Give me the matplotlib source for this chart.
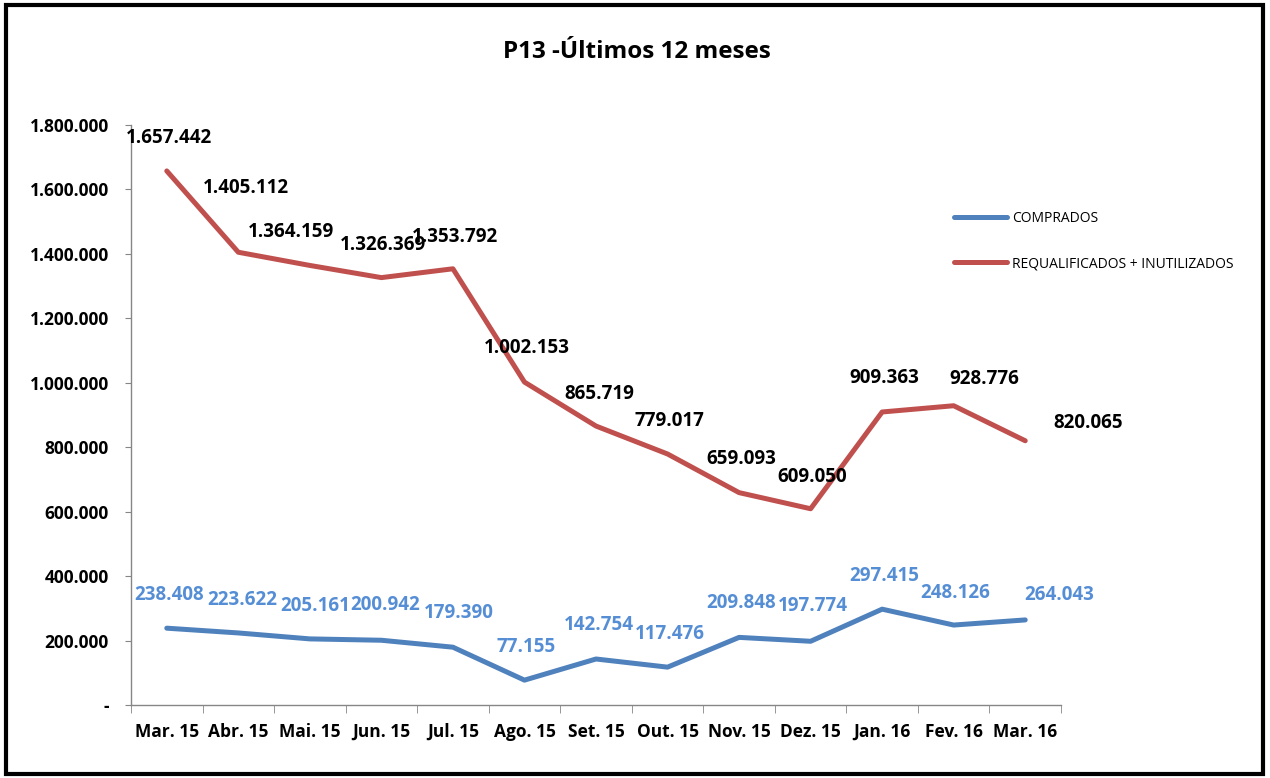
import matplotlib
matplotlib.use("Agg")
import matplotlib.pyplot as plt
from matplotlib.patches import Rectangle
from matplotlib.ticker import FuncFormatter, FixedLocator

plt.rcParams['font.family'] = ['Open Sans', 'DejaVu Sans']

meses = ['Mar. 15', 'Abr. 15', 'Mai. 15', 'Jun. 15', 'Jul. 15', 'Ago. 15', 'Set. 15',
         'Out. 15', 'Nov. 15', 'Dez. 15', 'Jan. 16', 'Fev. 16', 'Mar. 16']
comprados = [238408, 223622, 205161, 200942, 179390, 77155, 142754,
             117476, 209848, 197774, 297415, 248126, 264043]
requalificados = [1657442, 1405112, 1364159, 1326369, 1353792, 1002153, 865719,
                  779017, 659093, 609050, 909363, 928776, 820065]
yticks = [0, 200000, 400000, 600000, 800000, 1000000, 1200000, 1400000, 1600000, 1800000]

# deslocamento dos rótulos em pixels (dx, dy para cima), como no original
off_red = [(2, 33), (8, 64), (-19, 33), (2, 33), (2, 32), (2, 34), (3, 32),
           (2, 33), (2, 34), (2, 32), (2, 34), (31, 27), (63, 18)]
off_blue = [(2, 33), (4, 33), (5, 33), (4, 35), (6, 34), (2, 33), (3, 34),
            (2, 33), (2, 34), (2, 35), (2, 33), (2, 32), (34, 25)]

vermelho = '#C0504D'
azul = '#4F81BD'
azul_txt = '#558ED5'
DPI = 100


def fmt(v):
    if v == 0:
        return '-'
    return f'{v:,.0f}'.replace(',', '.')


fig = plt.figure(figsize=(12.7, 7.78), dpi=DPI)
ax = fig.add_axes([131 / 1270, 1 - 705 / 778, 930 / 1270, 580 / 778])

x = list(range(len(meses)))
ax.plot(x, comprados, color=azul, lw=3.6, solid_capstyle='round', label='COMPRADOS')
ax.plot(x, requalificados, color=vermelho, lw=3.6, solid_capstyle='round',
        label='REQUALIFICADOS + INUTILIZADOS')

px = 72 / DPI
for i, v in enumerate(requalificados):
    dx, dy = off_red[i]
    ax.annotate(fmt(v), (i, v), xytext=(dx * px, dy * px), textcoords='offset points',
                ha='center', va='center', fontsize=13.5, fontweight='bold', color='black')
for i, v in enumerate(comprados):
    dx, dy = off_blue[i]
    ax.annotate(fmt(v), (i, v), xytext=(dx * px, dy * px), textcoords='offset points',
                ha='center', va='center', fontsize=13.5, fontweight='bold', color=azul_txt)

ax.set_xlim(-0.5, len(meses) - 0.5)
ax.set_ylim(0, 1800000)
ax.set_yticks(yticks)
ax.yaxis.set_major_formatter(FuncFormatter(lambda v, p: fmt(v)))
ax.set_xticks(x)
ax.set_xticklabels(meses)
ax.xaxis.set_minor_locator(FixedLocator([i - 0.5 for i in range(len(meses) + 1)]))

for s in ['top', 'right']:
    ax.spines[s].set_visible(False)
for s in ['left', 'bottom']:
    ax.spines[s].set_color('#868686')
    ax.spines[s].set_linewidth(1.0)
ax.tick_params(axis='y', length=4, color='#868686', pad=12, labelsize=12.5)
ax.tick_params(axis='x', which='major', length=0, pad=23, labelsize=12.5)
ax.tick_params(axis='x', which='minor', length=6, color='#868686', direction='out')
for t in ax.get_xticklabels():
    t.set_fontweight('bold')
    t.set_verticalalignment('baseline')
for t in ax.get_yticklabels():
    t.set_fontweight('bold')

leg = ax.legend(loc='upper left', bbox_to_anchor=(942 / 1270, 1 - 198 / 778),
                bbox_transform=fig.transFigure, frameon=False, fontsize=10,
                handlelength=3.8, labelspacing=2.2, handletextpad=0.35)

fig.text(637 / 1270, 1 - 52 / 778, 'P13 -Últimos 12 meses', ha='center', va='center',
         fontsize=17.5, fontweight='bold')

fig.patches.append(Rectangle((6 / 1270, 4 / 778), 1257 / 1270, 769 / 778,
                             transform=fig.transFigure, fill=False,
                             edgecolor='black', lw=3))

fig.savefig('out.png', dpi=DPI)
